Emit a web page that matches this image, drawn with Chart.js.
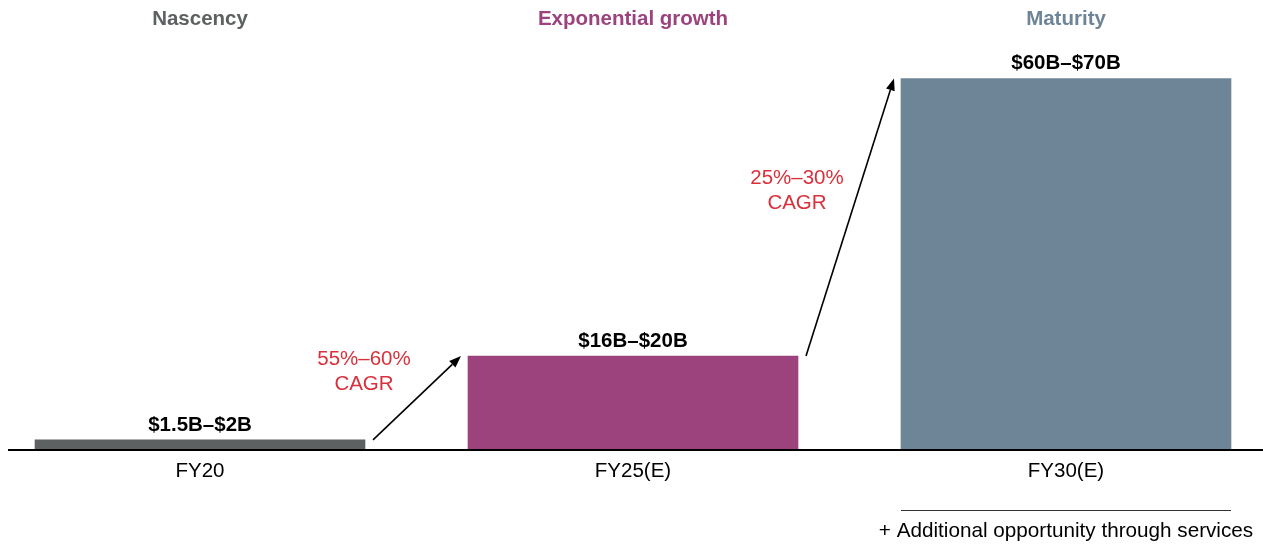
<!DOCTYPE html>
<html>
<head>
<meta charset="utf-8">
<script src="https://cdn.jsdelivr.net/npm/chart.js@4/dist/chart.umd.min.js"></script>
<style>
  html, body { margin: 0; padding: 0; background: #fff; }
  #wrap { width: 1263px; height: 544px; position: relative; }
</style>
</head>
<body>
<div id="wrap"><canvas id="c" width="1263" height="544"></canvas></div>
<script>
// Market size by fiscal year, $B
const categories = ['FY20', 'FY25(E)', 'FY30(E)'];
const stages = ['Nascency', 'Exponential growth', 'Maturity'];
const marketSize = [1.6, 16.3, 65];
const rangeLabels = ['$1.5B\u2013$2B', '$16B\u2013$20B', '$60B\u2013$70B'];
const cagrLabels = ['55%\u201360%', '25%\u201330%'];
const footnote = '+ Additional opportunity through services';

const stageColors = ['#5d6161', '#9c437e', '#6e8597'];
const FONT = '"Liberation Sans", Arial, sans-serif';

const annotations = {
  id: 'annotations',
  afterDatasetsDraw(chart) {
    const ctx = chart.ctx;
    const meta = chart.getDatasetMeta(0);
    const x = chart.scales.x;
    const area = chart.chartArea;
    const bars = meta.data.map(b => {
      const p = b.getProps(['x', 'y', 'width', 'base'], true);
      return { left: p.x - p.width / 2, right: p.x + p.width / 2, cx: p.x, top: p.y, base: p.base };
    });

    ctx.save();
    // baseline
    ctx.strokeStyle = '#000';
    ctx.lineWidth = 2;
    ctx.beginPath();
    ctx.moveTo(8, area.bottom + 1);
    ctx.lineTo(chart.width, area.bottom + 1);
    ctx.stroke();

    // stage headers
    ctx.textAlign = 'center';
    ctx.textBaseline = 'middle';
    ctx.font = 'bold 20.5px ' + FONT;
    stages.forEach((s, i) => {
      ctx.fillStyle = stageColors[i];
      ctx.fillText(s, x.getPixelForValue(i), 19.5);
    });

    // value range labels above bars
    ctx.fillStyle = '#000';
    bars.forEach((b, i) => {
      ctx.fillText(rangeLabels[i], b.cx, b.top - 15);
    });

    // growth arrows with CAGR labels
    for (let i = 0; i < bars.length - 1; i++) {
      const x0 = bars[i].right + 8, y0 = bars[i].top;
      const x1 = bars[i + 1].left - 7, y1 = bars[i + 1].top;
      const ang = Math.atan2(y1 - y0, x1 - x0);
      const head = 12, hw = 4.5;
      const bx = x1 - head * Math.cos(ang), by = y1 - head * Math.sin(ang);
      ctx.strokeStyle = '#000';
      ctx.lineWidth = 1.6;
      ctx.beginPath();
      ctx.moveTo(x0, y0);
      ctx.lineTo(bx, by);
      ctx.stroke();
      ctx.fillStyle = '#000';
      ctx.beginPath();
      ctx.moveTo(x1, y1);
      ctx.lineTo(bx + hw * Math.sin(ang), by - hw * Math.cos(ang));
      ctx.lineTo(bx - hw * Math.sin(ang), by + hw * Math.cos(ang));
      ctx.closePath();
      ctx.fill();

      const mx = (x0 + x1) / 2, my = (y0 + y1) / 2;
      ctx.fillStyle = '#d9313b';
      ctx.font = '20.5px ' + FONT;
      ctx.fillText(cagrLabels[i], mx - 53, my - 39);
      ctx.fillText('CAGR', mx - 53, my - 14);
    }

    // services note under the last bar
    const last = bars[bars.length - 1];
    ctx.strokeStyle = '#333';
    ctx.lineWidth = 1;
    ctx.beginPath();
    ctx.moveTo(last.left, 510.5);
    ctx.lineTo(last.right, 510.5);
    ctx.stroke();
    ctx.fillStyle = '#000';
    ctx.font = '20.7px ' + FONT;
    ctx.fillText(footnote, last.cx, 531);
    ctx.restore();
  }
};

new Chart(document.getElementById('c'), {
  type: 'bar',
  data: {
    labels: categories,
    datasets: [{
      data: marketSize,
      backgroundColor: stageColors,
      borderWidth: 0,
      barThickness: 330,
      clip: false
    }]
  },
  options: {
    responsive: false,
    animation: false,
    events: [],
    layout: { padding: { top: 50, bottom: 55, left: 200, right: 197 } },
    plugins: { legend: { display: false }, tooltip: { enabled: false } },
    scales: {
      x: {
        offset: false,
        grid: { display: false, drawTicks: false },
        border: { display: false },
        ticks: { color: '#000', font: { family: FONT, size: 20.5 }, padding: 10, maxRotation: 0, autoSkip: false },
        afterFit(scale) { scale.height = 40; }
      },
      y: {
        display: false,
        min: 0,
        max: 70
      }
    }
  },
  plugins: [annotations]
});
</script>
</body>
</html>
